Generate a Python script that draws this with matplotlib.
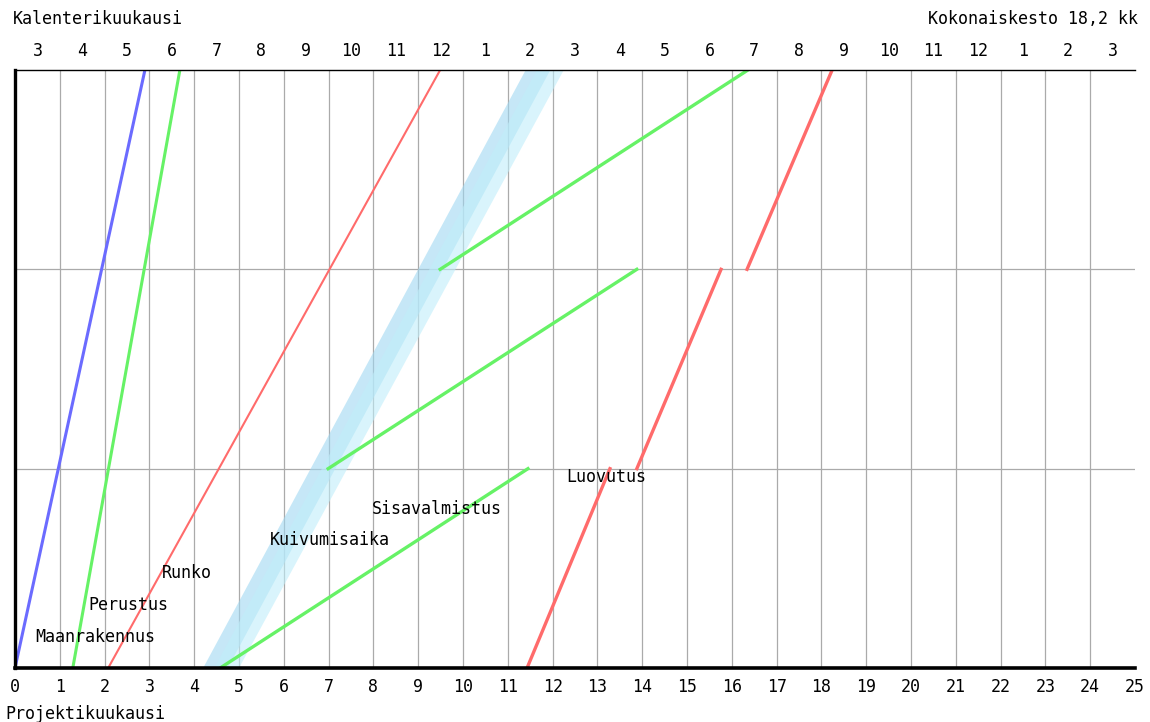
import matplotlib
matplotlib.use("Agg")
import matplotlib.pyplot as plt

plt.rcParams['font.family'] = ['DejaVu Sans Mono']
plt.rcParams['font.size'] = 12

# project months on x, floors (0..3) on y
months = list(range(26))
calendar = [3, 4, 5, 6, 7, 8, 9, 10, 11, 12, 1, 2, 3, 4, 5, 6, 7, 8, 9, 10, 11, 12, 1, 2, 3]
floors = 3
total = '18,2'

phases = ['Maanrakennus', 'Perustus', 'Runko', 'Kuivumisaika', 'Sisavalmistus', 'Luovutus']

# whole-building phases: start at floor 0, end at top
maan = (0.0, 2.90)
perustus = (1.29, 3.68)
runko = (2.08, 9.49)

# drying band: (start bottom, start top), two overlapping tones
kuiv_a = [(4.20, 11.40), (4.75, 11.95)]
kuiv_b = [(4.45, 11.65), (5.00, 12.25)]

# per-floor phases (start, end) for floors 0,1,2
sisa = [(4.58, 11.45), (6.99, 13.88), (9.49, 16.36)]
luov = [(11.43, 13.28), (13.88, 15.76), (16.34, 18.24)]

label_pos = [(0.45, 0.155), (1.63, 0.316), (3.28, 0.477), (5.69, 0.64), (7.97, 0.80), (12.3, 0.96)]

fig = plt.figure(figsize=(11.5, 7.22), dpi=100)
ax = fig.add_axes([15 / 1150, 54 / 722, 1120 / 1150, 598 / 722])
ax.set_xlim(0, 25)
ax.set_ylim(0, floors)

for m in months[1:-1]:
    ax.axvline(m, color='#aaaaaa', lw=0.9, zorder=1)
for f in range(1, floors):
    ax.axhline(f, color='#aaaaaa', lw=0.9, zorder=1)

ax.fill([kuiv_a[0][0], kuiv_a[1][0], kuiv_a[1][1], kuiv_a[0][1]], [0, 0, floors, floors],
        color='#a0d8f2', alpha=0.6, lw=0, zorder=2)
ax.fill([kuiv_b[0][0], kuiv_b[1][0], kuiv_b[1][1], kuiv_b[0][1]], [0, 0, floors, floors],
        color='#c0eefa', alpha=0.6, lw=0, zorder=2)

ax.plot(maan, [0, floors], color='#6b6bff', lw=2.2, zorder=3)
ax.plot(perustus, [0, floors], color='#66f266', lw=2.2, zorder=3)
ax.plot(runko, [0, floors], color='#ff6b6b', lw=1.5, zorder=3)
for i, (a, b) in enumerate(sisa):
    ax.plot([a, b], [i, i + 1], color='#66f266', lw=2.4, zorder=3)
for i, (a, b) in enumerate(luov):
    ax.plot([a, b], [i, i + 1], color='#ff6b6b', lw=2.4, zorder=3)

for name, (x, y) in zip(phases, label_pos):
    ax.text(x, y, name, ha='left', va='center', zorder=4)

ax.set_xticks(months)
ax.set_xticklabels([str(m) for m in months])
ax.set_yticks([])
ax.tick_params(axis='x', length=0, pad=7)

top = ax.secondary_xaxis('top')
top.set_xticks([m + 0.5 for m in months[:-1]])
top.set_xticklabels([str(c) for c in calendar])
top.tick_params(length=0, pad=7)
top.spines['top'].set_visible(False)

ax.spines['right'].set_visible(False)
ax.spines['left'].set_linewidth(2.4)
ax.spines['bottom'].set_linewidth(2.6)
ax.spines['top'].set_linewidth(1.0)
for s in ax.spines.values():
    s.set_color('black')
    s.set_zorder(5)

fig.text(13 / 1150, 1 - 19 / 722, 'Kalenterikuukausi', ha='left', va='center')
fig.text(1138 / 1150, 1 - 19 / 722, 'Kokonaiskesto %s kk' % total, ha='right', va='center')
fig.text(5 / 1150, 1 - 714 / 722, 'Projektikuukausi', ha='left', va='center')

fig.savefig('out.png', dpi=100)
